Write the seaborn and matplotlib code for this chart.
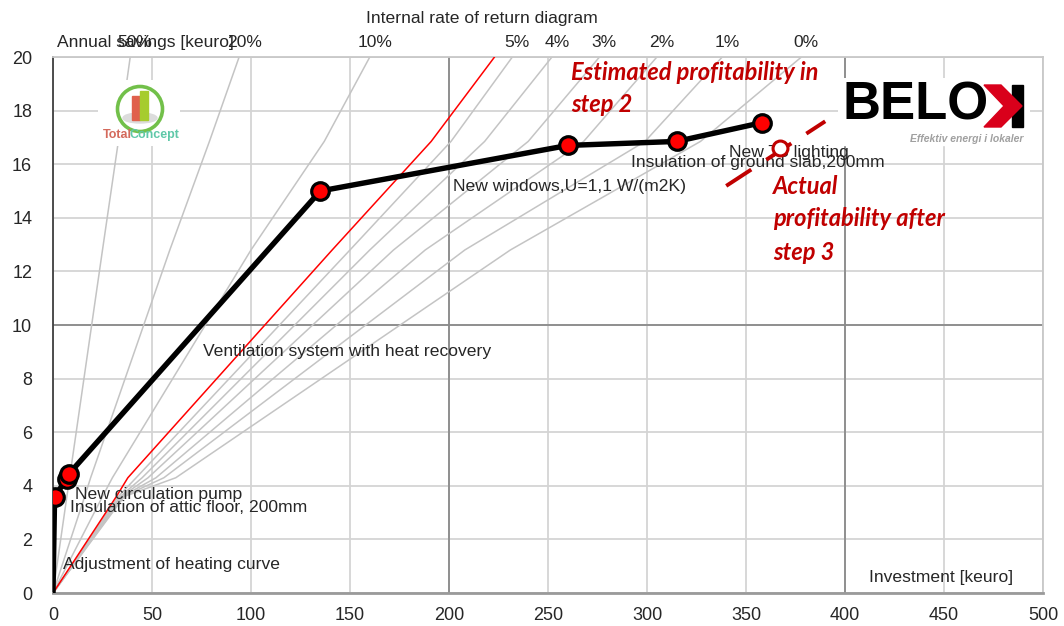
import numpy as np
import pandas as pd
import matplotlib.pyplot as plt
import matplotlib.patches as mpatches
import seaborn as sns

# cumulative investment [keuro] and annual savings [keuro] of the measures
investment = [0, 0.8, 6.9, 8.1, 135, 260, 315, 358]
savings = [0, 3.6, 4.25, 4.45, 15.0, 16.7, 16.85, 17.55]
actual_investment = [367]
actual_savings = [16.6]

# internal rate of return lines, x read at these savings levels
irr_levels = [0, 3.6, 4.3, 12.8, 16.85, 20]
irr_names = ['50%', '20%', '10%', '5%', '4%', '3%', '2%', '1%', '0%']
irr_x = {
    '50%': [0, 7, 8.4, 25, 33, 39],
    '20%': [0, 16, 19, 59, 79, 94],
    '10%': [0, 25, 30, 100, 137, 160],
    '5%': [0, 33, 42, 150, 201, 232],
    '4%': [0, 34, 45, 160, 218, 252],
    '3%': [0, 34.5, 48, 172, 240, 276],
    '2%': [0, 35, 52, 188, 268, 305],
    '1%': [0, 35.5, 56, 208, 299, 338],
    '0%': [0, 36, 62, 231, 327, 378],
}
required_x = [0, 32, 37.8, 141, 191, 223]

# measure labels and where they sit
labels = ['Adjustment of heating curve', 'New circulation pump',
          'Insulation of attic floor, 200mm', 'Ventilation system with heat recovery',
          'New windows,U=1,1 W/(m2K)', 'Insulation of ground slab,200mm', 'New T5 lighting']
label_pos = [(5, 1.05), (11, 3.66), (8.6, 3.2), (76, 9.0), (202, 15.15), (292, 16.05), (341.5, 16.45)]

sns.set_style('white')
plt.rcParams['font.family'] = ['Liberation Sans', 'DejaVu Sans']
FS = 12.6

fig = plt.figure(figsize=(10.64, 6.26), dpi=100)
ax = fig.add_axes([53 / 1064, 33 / 626, 990 / 1064, 536 / 626])
ax.set_xlim(0, 500)
ax.set_ylim(0, 20)
ax.set_xticks(range(0, 501, 50))
ax.set_yticks(range(0, 21, 2))
ax.grid(True, color='#d4d4d4', lw=1.3)
ax.set_axisbelow(True)
for v in (200, 400):
    ax.axvline(v, color='#8a8a8a', lw=1.3, zorder=1)
ax.axhline(10, color='#8a8a8a', lw=1.3, zorder=1)

for s in ['top', 'right']:
    ax.spines[s].set_color('#c8c8c8')
    ax.spines[s].set_linewidth(1.3)
ax.spines['left'].set_color('#404040')
ax.spines['left'].set_linewidth(1.3)
ax.spines['bottom'].set_color('#9a9a9a')
ax.spines['bottom'].set_linewidth(2)
ax.tick_params(axis='y', direction='out', length=9, width=1.3, color='#202020', labelsize=13, pad=6)
ax.tick_params(axis='x', direction='out', length=4, width=1.3, color='#9a9a9a', labelsize=13, pad=6)
ax.set_xlabel('')
ax.set_ylabel('')

# IRR lines
for name in irr_names:
    sns.lineplot(x=irr_x[name], y=irr_levels, sort=False, estimator=None, color='#c4c4c4', lw=1.1, ax=ax, zorder=2)
    ax.text(irr_x[name][-1] + 2.5, 20.25, name, ha='center', va='bottom', fontsize=FS, clip_on=False)
sns.lineplot(x=required_x, y=irr_levels, sort=False, estimator=None, color='red', lw=1.1, ax=ax, zorder=3)

# measures curve
sns.lineplot(x=investment, y=savings, sort=False, estimator=None, color='black', lw=3.9, ax=ax, zorder=5)
sns.scatterplot(x=investment[1:], y=savings[1:], s=160, color='red', edgecolor='black', linewidth=2.3, ax=ax, zorder=6)

for txt, (x, y) in zip(labels, label_pos):
    ax.text(x, y, txt, fontsize=FS, va='center', ha='left', zorder=7)

ax.text(412, 0.56, 'Investment [keuro]', fontsize=FS, va='center', ha='left')
ax.text(2, 20.25, 'Annual savings [keuro]', fontsize=FS, va='bottom', ha='left', clip_on=False)
fig.text(482 / 1064, 1 - 19 / 626, 'Internal rate of return diagram', fontsize=FS, ha='center', va='center')

# actual result after step 3
dash_x = [340, 390]
dash_y = [15.19, 17.6]
ax.plot(dash_x, dash_y, color='#c00000', lw=2.8, dashes=(7.7, 4.6), zorder=7, dash_capstyle='butt')
sns.scatterplot(x=actual_investment, y=actual_savings, s=115, color='white', edgecolor='#c00000', linewidth=2.2, ax=ax, zorder=8)

red_kw = dict(color='#c00000', fontsize=17, fontweight='bold', fontstyle='italic', family=['Lato', 'DejaVu Sans'])
fig.text(571 / 1064, 1 - 73 / 626, 'Estimated profitability in', va='center', ha='left', **red_kw)
fig.text(571 / 1064, 1 - 104 / 626, 'step 2', va='center', ha='left', **red_kw)
fig.text(773 / 1064, 1 - 186 / 626, 'Actual', va='center', ha='left', **red_kw)
fig.text(773 / 1064, 1 - 218 / 626, 'profitability after', va='center', ha='left', **red_kw)
fig.text(773 / 1064, 1 - 253 / 626, 'step 3', va='center', ha='left', **red_kw)

# TotalConcept logo
lg = fig.add_axes([98 / 1064, 1 - 146 / 626, 82 / 1064, 66 / 626])
lg.set_xlim(0, 82)
lg.set_ylim(66, 0)
lg.axis('off')
lg.add_patch(mpatches.Rectangle((0, 0), 82, 66, color='white'))
lg.add_patch(mpatches.Ellipse((42, 38), 34, 10, color='#dcdcdc'))
lg.add_patch(mpatches.Rectangle((34, 16), 8, 24, color='#e0604c'))
lg.add_patch(mpatches.Rectangle((42, 11), 8, 29, color='#a6cc2e'))
lg.add_patch(mpatches.Circle((42, 29), 22.5, fill=False, edgecolor='#72c04a', lw=2.6))
lg.text(5, 55, 'Total', color='#d46a5c', fontsize=9, fontweight='bold', va='center')
lg.text(32, 55, 'Concept', color='#5fc8a8', fontsize=9, fontweight='bold', va='center')

# BELOK logo (white box kept above the lighting label)
bl = fig.add_axes([838 / 1064, 1 - 152 / 626, 192 / 1064, 74 / 626])
bl.set_xlim(838, 1030)
bl.set_ylim(152, 78)
bl.axis('off')
bl.add_patch(mpatches.Rectangle((838, 78), 192, 67, color='white'))
bl.text(842, 106, 'BELO', fontsize=38, fontweight='bold', color='black', va='center', ha='left')
bl.add_patch(mpatches.Rectangle((1012, 85), 11, 42, color='black'))
bl.add_patch(mpatches.Polygon([(984, 85), (1001, 85), (1022, 106), (1001, 127), (984, 127), (1004, 106)], color='#d9001b'))
bl.text(1023, 139, 'Effektiv energi i lokaler', fontsize=7.5, fontweight='bold', fontstyle='italic',
        color='#a0a0a0', va='center', ha='right')

fig.savefig('out.png', dpi=100)
